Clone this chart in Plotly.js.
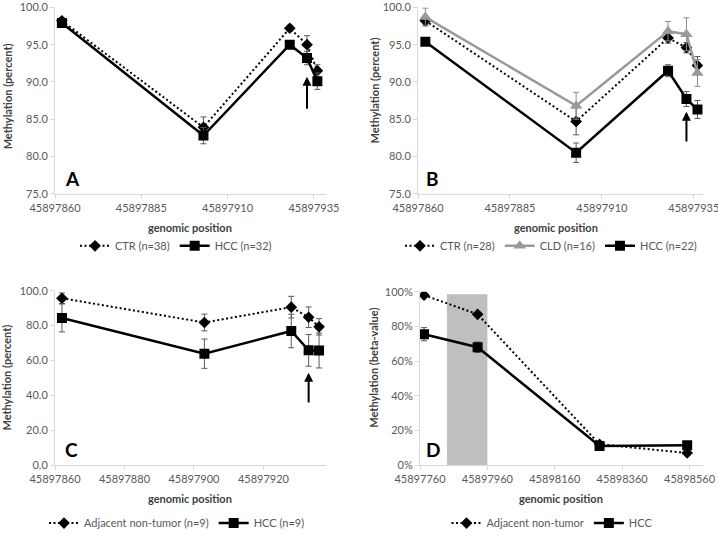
<!DOCTYPE html>
<html>
<head>
<meta charset="utf-8">
<script src="https://cdn.plot.ly/plotly-3.0.1.min.js"></script>
<style>html,body{margin:0;padding:0;background:#fff;}#chart{width:718px;height:538px;}</style>
</head>
<body>
<div id="chart"></div>
<script>
// ---------- DATA ----------
// Panels A, B, C: CpG positions
const posABC = [45897862, 45897903, 45897928, 45897933, 45897936];
// Panel A
const aCTR = [98.2, 83.9, 97.2, 95.0, 91.5];
const aCTRerr = [0.4, 1.4, 0.4, 1.2, 0.8];
const aHCC = [97.9, 82.8, 95.0, 93.2, 90.1];
const aHCCerr = [0.4, 1.1, 0.5, 0.9, 1.1];
// Panel B
const bCTR = [98.2, 84.7, 95.9, 94.6, 92.2];
const bCTRerr = [0.6, 1.8, 0.7, 0.7, 1.2];
const bCLD = [98.7, 86.8, 96.8, 96.4, 91.2];
const bCLDerr = [1.2, 1.8, 1.3, 2.2, 1.8];
const bHCC = [95.4, 80.5, 91.5, 87.7, 86.3];
const bHCCerr = [0.3, 1.3, 0.8, 1.0, 1.2];
// Panel C
const cNT = [95.7, 81.8, 90.6, 84.8, 79.3];
const cNTerr = [3.0, 4.8, 6.2, 5.9, 4.7];
const cHCC = [84.4, 63.9, 76.9, 65.8, 65.7];
const cHCCerr = [8.0, 8.4, 9.6, 9.1, 10.0];
// Panel D
const posD = [45897772, 45897931, 45898293, 45898553];
const dNT = [0.98, 0.87, 0.12, 0.07];
const dHCC = [0.755, 0.68, 0.11, 0.115];
const dHCCerr = [0.038, 0.03, 0.01, 0.01];
const dShadeX = [45897840, 45897960];
const dShadeTop = 0.985;
// Arrows [x, tailY, tipY]
const arrowA = [45897933, 86.2, 90.7];
const arrowB = [45897933, 81.8, 86.0];
const arrowC = [45897933, 35.0, 53.0];
// Legend labels
const labelsA = ['CTR (n=38)', 'HCC (n=32)'];
const labelsB = ['CTR (n=28)', 'CLD (n=16)', 'HCC (n=22)'];
const labelsC = ['Adjacent non-tumor (n=9)', 'HCC (n=9)'];
const labelsD = ['Adjacent non-tumor', 'HCC'];

// ---------- STYLES ----------
const W = 718, H = 538;
const px = v => v / W;
const py = v => 1 - v / H;
const dotDash = '2px,2.5px';
const errStyle = (arr, color) => ({type: 'data', array: arr, visible: true, color: color || '#595959', thickness: 1, width: 3});

function ctrTrace(x, y, err, name, xa, ya, leg) {
  const t = {x, y, name, type: 'scatter', mode: 'lines+markers', xaxis: xa, yaxis: ya, legend: leg,
    line: {color: '#000', width: 2, dash: dotDash},
    marker: {symbol: 'diamond', size: 9, color: '#000'}};
  if (err) t.error_y = errStyle(err);
  return t;
}
function hccTrace(x, y, err, name, xa, ya, leg) {
  const t = {x, y, name, type: 'scatter', mode: 'lines+markers', xaxis: xa, yaxis: ya, legend: leg,
    line: {color: '#000', width: 2.5},
    marker: {symbol: 'square', size: 10, color: '#000'}};
  if (err) t.error_y = errStyle(err);
  return t;
}
function cldTrace(x, y, err, name, xa, ya, leg) {
  return {x, y, name, type: 'scatter', mode: 'lines+markers', xaxis: xa, yaxis: ya, legend: leg,
    line: {color: '#999999', width: 2.5},
    marker: {symbol: 'triangle-up', size: 11, color: '#999999'},
    error_y: errStyle(err, '#8c8c8c')};
}

const traces = [
  ctrTrace(posABC, aCTR, aCTRerr, labelsA[0], 'x', 'y', 'legend'),
  hccTrace(posABC, aHCC, aHCCerr, labelsA[1], 'x', 'y', 'legend'),
  ctrTrace(posABC, bCTR, bCTRerr, labelsB[0], 'x2', 'y2', 'legend2'),
  cldTrace(posABC, bCLD, bCLDerr, labelsB[1], 'x2', 'y2', 'legend2'),
  hccTrace(posABC, bHCC, bHCCerr, labelsB[2], 'x2', 'y2', 'legend2'),
  ctrTrace(posABC, cNT, cNTerr, labelsC[0], 'x3', 'y3', 'legend3'),
  hccTrace(posABC, cHCC, cHCCerr, labelsC[1], 'x3', 'y3', 'legend3'),
  ctrTrace(posD, dNT, null, labelsD[0], 'x4', 'y4', 'legend4'),
  hccTrace(posD, dHCC, dHCCerr, labelsD[1], 'x4', 'y4', 'legend4')
];

const axBase = {showgrid: false, zeroline: false, showline: true, linecolor: '#d9d9d9', linewidth: 1,
  ticks: 'outside', ticklen: 4, tickcolor: '#d9d9d9', tickfont: {size: 11, color: '#595959'},
  ticklabeloverflow: 'allow', fixedrange: true};
const xAxis = (dom, anchor, range, dtick) => Object.assign({}, axBase, {domain: dom, anchor, range, tick0: range[0], dtick, tickformat: 'd'});
const yAxis = (dom, anchor, range, dtick, fmt) => Object.assign({}, axBase, {domain: dom, anchor, range, dtick, tickformat: fmt});

const topDom = [py(197), py(7.5)];
const botDom = [py(473), py(295.7)];
const legBase = {orientation: 'h', xanchor: 'center', yanchor: 'middle', font: {size: 11, color: '#595959'},
  itemwidth: 30, bgcolor: 'rgba(0,0,0,0)', traceorder: 'normal'};

const titleFont = {size: 11, color: '#404040'};
function ann(text, x, y, angle) {
  return {text: '<b>' + text + '</b>', xref: 'paper', yref: 'paper', x: px(x), y: py(y), xanchor: 'center', yanchor: 'middle',
    showarrow: false, textangle: angle || 0, font: titleFont};
}
function panel(letter, x, y) {
  return {text: '<b>' + letter + '</b>', xref: 'paper', yref: 'paper', x: px(x), y: py(y), xanchor: 'center', yanchor: 'middle',
    showarrow: false, font: {size: 19, color: '#000'}};
}
function arrow(a, xa, ya) {
  return {text: '', xref: xa, yref: ya, axref: xa, ayref: ya, x: a[0], y: a[2], ax: a[0], ay: a[1],
    showarrow: true, arrowhead: 2, arrowsize: 0.9, arrowwidth: 2, arrowcolor: '#000', standoff: 0, startstandoff: 0};
}

const layout = {
  width: W, height: H, margin: {l: 0, r: 0, t: 0, b: 0},
  paper_bgcolor: '#fff', plot_bgcolor: '#fff',
  font: {family: 'Lato, "Open Sans", sans-serif', size: 11, color: '#595959'},
  showlegend: true,
  xaxis: xAxis([px(55), px(326)], 'y', [45897860, 45897938.5], 25),
  yaxis: yAxis(topDom, 'x', [75, 100], 5, '.1f'),
  xaxis2: xAxis([px(418), px(703)], 'y2', [45897860, 45897937.5], 25),
  yaxis2: yAxis(topDom, 'x2', [75, 100], 5, '.1f'),
  xaxis3: xAxis([px(55), px(326)], 'y3', [45897860, 45897938], 20),
  yaxis3: yAxis(botDom, 'x3', [0, 100], 20, '.1f'),
  xaxis4: xAxis([px(420), px(703)], 'y4', [45897760, 45898600], 200),
  yaxis4: yAxis([py(473), py(296.7)], 'x4', [0, 1], 0.2, '.0%'),
  legend: Object.assign({}, legBase, {x: px(176), y: py(250)}),
  legend2: Object.assign({}, legBase, {x: px(551), y: py(250)}),
  legend3: Object.assign({}, legBase, {x: px(177), y: py(532)}),
  legend4: Object.assign({}, legBase, {x: px(552), y: py(532)}),
  shapes: [{type: 'rect', xref: 'x4', yref: 'y4', x0: dShadeX[0], x1: dShadeX[1], y0: 0, y1: dShadeTop,
    fillcolor: '#bfbfbf', line: {width: 0}, layer: 'below'}],
  annotations: [
    ann('Methylation (percent)', 7, 98, -90),
    ann('Methylation (percent)', 374, 92, -90),
    ann('Methylation (percent)', 7, 384, -90),
    ann('Methylation (beta-value)', 374, 374, -90),
    ann('genomic position', 190, 231),
    ann('genomic position', 556, 231),
    ann('genomic position', 190, 507),
    ann('genomic position', 561, 507),
    panel('A', 72, 182), panel('B', 432, 182), panel('C', 71, 457), panel('D', 433, 457),
    arrow(arrowA, 'x', 'y'), arrow(arrowB, 'x2', 'y2'), arrow(arrowC, 'x3', 'y3')
  ]
};

Plotly.newPlot('chart', traces, layout, {displayModeBar: false, staticPlot: true});
</script>
</body>
</html>
